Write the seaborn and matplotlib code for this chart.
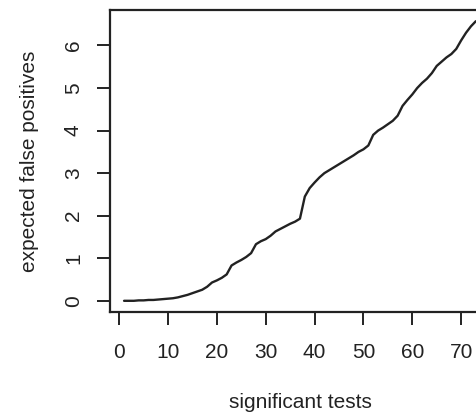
import numpy as np
import pandas as pd
import matplotlib
matplotlib.use("Agg")
import matplotlib.pyplot as plt
import seaborn as sns

# number of tests called significant (ranked)
significant_tests = list(range(1, 74))

# cumulative expected number of false positives among the top-ranked tests
expected_false_positives = [
    0.00, 0.00, 0.00, 0.01, 0.01, 0.02, 0.02, 0.03, 0.04, 0.05,
    0.06, 0.08, 0.11, 0.14, 0.18, 0.22, 0.26, 0.33, 0.43, 0.48,
    0.54, 0.62, 0.83, 0.90, 0.96, 1.03, 1.12, 1.33, 1.40, 1.45,
    1.53, 1.63, 1.69, 1.75, 1.81, 1.86, 1.93, 2.45, 2.65, 2.78,
    2.90, 3.00, 3.07, 3.14, 3.21, 3.28, 3.35, 3.42, 3.50, 3.56,
    3.65, 3.90, 4.00, 4.07, 4.15, 4.23, 4.35, 4.58, 4.72, 4.85,
    5.00, 5.12, 5.22, 5.35, 5.52, 5.62, 5.72, 5.80, 5.92, 6.12,
    6.30, 6.45, 6.57,
]

x_ticks = [0, 10, 20, 30, 40, 50, 60, 70]
y_ticks = [0, 1, 2, 3, 4, 5, 6]

df = pd.DataFrame({"significant tests": significant_tests,
                   "expected false positives": expected_false_positives})

sns.set_style("ticks")
plt.rcParams["font.family"] = ["Liberation Sans", "DejaVu Sans"]

ink = "#222222"
fs = 15
fig = plt.figure(figsize=(4.77, 4.19), dpi=100)
ax = fig.add_axes([0.2306, 0.2554, 0.7964, 0.7206])

sns.lineplot(data=df, x="significant tests", y="expected false positives",
             ax=ax, color=ink, linewidth=1.7)

# R-style 4% padding around the data range
xr = max(significant_tests) - min(significant_tests)
yr = max(expected_false_positives) - min(expected_false_positives)
ax.set_xlim(min(significant_tests) - 0.04 * xr, max(significant_tests) + 0.04 * xr)
ax.set_ylim(min(expected_false_positives) - 0.04 * yr,
            max(expected_false_positives) + 0.04 * yr)

ax.set_xticks(x_ticks)
ax.set_yticks(y_ticks)
ax.set_yticklabels([str(v) for v in y_ticks], rotation=90, va="center")

for side in ["left", "right", "top", "bottom"]:
    ax.spines[side].set_visible(True)
    ax.spines[side].set_color(ink)
    ax.spines[side].set_linewidth(1.6)

ax.tick_params(axis="both", direction="out", length=9.5, width=1.4,
               color=ink, labelcolor=ink, labelsize=fs)
ax.tick_params(axis="x", pad=13)
ax.tick_params(axis="y", pad=10)

ax.set_xlabel("significant tests", fontsize=fs, color=ink, labelpad=22)
ax.set_ylabel("expected false positives", fontsize=fs, color=ink, labelpad=18)

fig.savefig("out.png", dpi=100)
